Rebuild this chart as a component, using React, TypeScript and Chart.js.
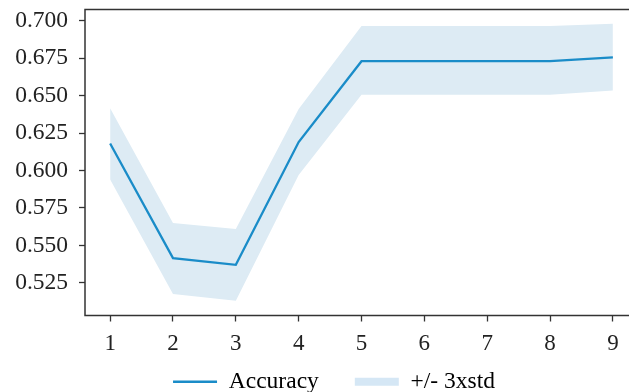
import { useEffect, useRef } from "react";
import { Chart, registerables } from "chart.js";
Chart.register(...registerables);

const xValues = [1, 2, 3, 4, 5, 6, 7, 8, 9];
const accuracy = [0.618, 0.5415, 0.537, 0.619, 0.673, 0.673, 0.673, 0.673, 0.6755];
const upperBand = [0.6415, 0.565, 0.561, 0.641, 0.6965, 0.6965, 0.6965, 0.6965, 0.698];
const lowerBand = [0.594, 0.5175, 0.513, 0.597, 0.6505, 0.6505, 0.6505, 0.6505, 0.6535];
const xTicks = [1, 2, 3, 4, 5, 6, 7, 8, 9];
const yTicks = [0.525, 0.55, 0.575, 0.6, 0.625, 0.65, 0.675, 0.7];
const legendLabels = ["Accuracy", "+/- 3xstd"];

const LINE = "#1a8cc8";
const BAND = "#ddebf4";
const BAND_LEGEND = "#d5e7f5";
const FONT = "'Liberation Serif', 'Times New Roman', serif";
const TEXT = "#222222";
const AXIS = "#333333";
const LEGEND_PAD = 36;
const LEGEND_FONT = 23.5;
const LEGEND_CENTER_Y = 381.7;

const pts = (ys: number[]) => xValues.map((x, i) => ({ x, y: ys[i] }));

const framePlugin = {
  id: "frame",
  afterLayout(chart: any) {
    const lg = chart.legend;
    if (lg) {
      const want = LEGEND_CENTER_Y - LEGEND_PAD - LEGEND_FONT / 2;
      const dy = want - lg.top;
      lg.top += dy;
      lg.bottom += dy;
    }
  },
  afterDraw(chart: any) {
    const { ctx, chartArea } = chart;
    ctx.save();
    ctx.strokeStyle = AXIS;
    ctx.lineWidth = 1.5;
    ctx.strokeRect(chartArea.left, chartArea.top, chartArea.right - chartArea.left, chartArea.bottom - chartArea.top);
    ctx.restore();
  },
};

export default function App() {
  const ref = useRef<HTMLCanvasElement>(null);
  useEffect(() => {
    if (!ref.current) return;
    const chart = new Chart(ref.current, {
      type: "line",
      data: {
        datasets: [
          {
            label: legendLabels[0],
            data: pts(accuracy),
            borderColor: LINE,
            borderWidth: 2.3,
            pointRadius: 0,
            tension: 0,
            fill: false,
          },
          {
            label: legendLabels[1],
            data: pts(upperBand),
            borderColor: "transparent",
            borderWidth: 0,
            pointRadius: 0,
            backgroundColor: BAND,
            fill: "+1",
          },
          {
            label: "lower",
            data: pts(lowerBand),
            borderColor: "transparent",
            borderWidth: 0,
            pointRadius: 0,
            fill: false,
          },
        ],
      },
      options: {
        animation: false,
        responsive: false,
        devicePixelRatio: 1,
        layout: { padding: { top: 9.5, left: 0, right: 0, bottom: -43 } },
        plugins: {
          tooltip: { enabled: false },
          legend: {
            position: "bottom",
            labels: {
              font: { family: FONT, size: LEGEND_FONT },
              color: TEXT,
              usePointStyle: true,
              pointStyleWidth: 44,
              boxHeight: 8,
              padding: LEGEND_PAD,
              generateLabels: () => [
                { text: legendLabels[0], pointStyle: "line", strokeStyle: LINE, fillStyle: LINE, lineWidth: 2.6, datasetIndex: 0, hidden: false },
                { text: legendLabels[1], pointStyle: "rect", strokeStyle: BAND_LEGEND, fillStyle: BAND_LEGEND, lineWidth: 0, datasetIndex: 1, hidden: false },
              ] as any,
            },
          },
        },
        scales: {
          x: {
            type: "linear",
            min: 0.6,
            max: 9.877,
            afterBuildTicks: (s: any) => {
              s.ticks = xTicks.map((v) => ({ value: v }));
            },
            afterFit: (s: any) => {
              s.height = 50;
              s.paddingLeft = 0;
              s.paddingRight = 0;
            },
            grid: { drawOnChartArea: false, drawTicks: true, tickLength: 6, color: AXIS, tickWidth: 1.3 },
            border: { display: false },
            ticks: {
              font: { family: FONT, size: 23 },
              color: TEXT,
              padding: 9,
              maxRotation: 0,
              autoSkip: false,
              callback: (v: any) => String(v),
            },
          },
          y: {
            type: "linear",
            min: 0.5032,
            max: 0.7075,
            afterBuildTicks: (s: any) => {
              s.ticks = yTicks.map((v) => ({ value: v }));
            },
            afterFit: (s: any) => {
              s.width = 85;
              s.paddingTop = 0;
              s.paddingBottom = 0;
            },
            grid: { drawOnChartArea: false, drawTicks: true, tickLength: 6, color: AXIS, tickWidth: 1.3 },
            border: { display: false },
            ticks: {
              font: { family: FONT, size: 23.5 },
              color: TEXT,
              padding: 11,
              autoSkip: false,
              callback: (v: any) => Number(v).toFixed(3),
            },
          },
        },
      },
      plugins: [framePlugin],
    });
    return () => chart.destroy();
  }, []);
  return (
    <div style={{ position: "fixed", left: 0, top: 0, width: 629, height: 392, overflow: "hidden", background: "#fff" }}>
      <canvas ref={ref} width={668} height={392} style={{ display: "block" }} />
    </div>
  );
}
